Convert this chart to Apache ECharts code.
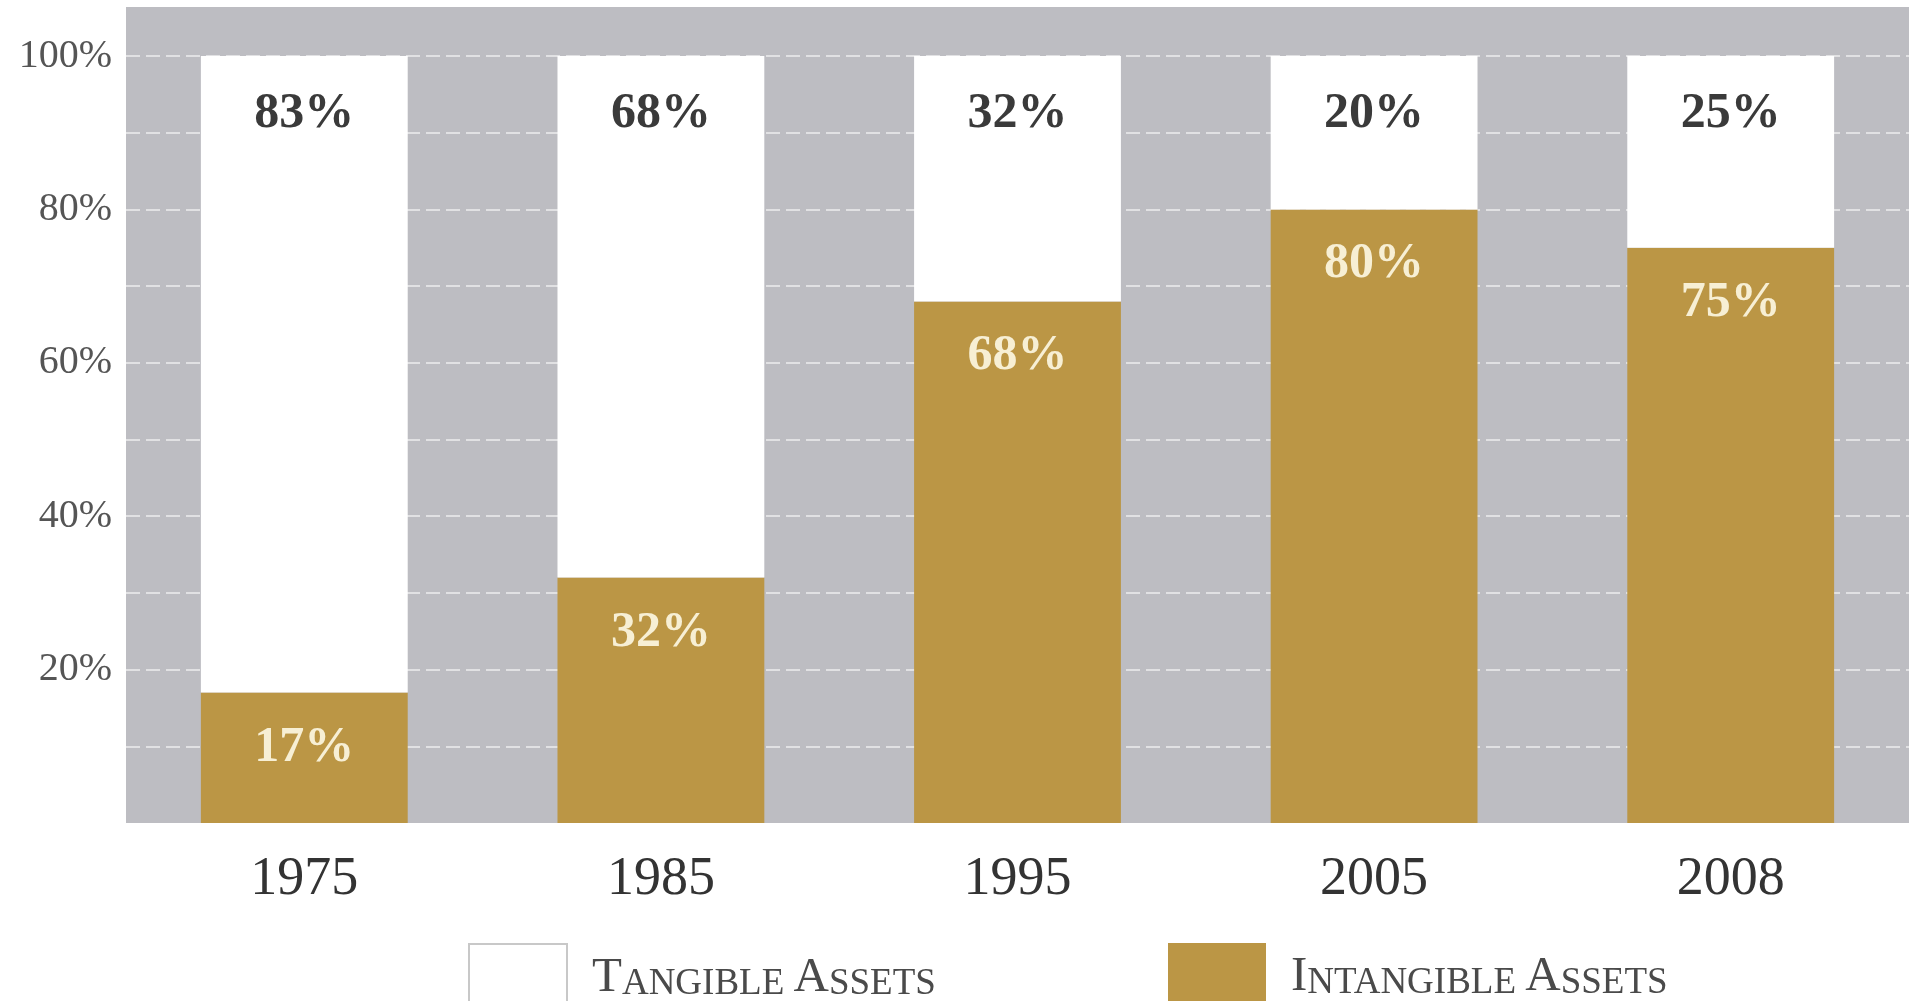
<!DOCTYPE html>
<html>
<head>
<meta charset="utf-8">
<title>Tangible vs Intangible Assets</title>
<script src="https://cdn.jsdelivr.net/npm/echarts@6/dist/echarts.min.js"></script>
<style>
    html, body { margin: 0; padding: 0; background: #fff; }
    #chart { width: 1909px; height: 1001px; }
</style>
</head>
<body>
<div id="chart"></div>
<script>
// 数据
var years = ['1975', '1985', '1995', '2005', '2008'];
var intangible = [17, 32, 68, 80, 75]; // 无形资产 %
var tangible = [83, 68, 32, 20, 25];   // 有形资产 %
var seriesNames = ['Tangible Assets', 'Intangible Assets'];

var gold = '#bb9645';
var serif = 'Liberation Serif';

// 小型大写字母图例
function smallCaps(name) {
    return name.split(' ').map(function (w) {
        return '{b|' + w.charAt(0) + '}{s|' + w.slice(1).toUpperCase() + '}';
    }).join('{s| }');
}

var legendText = {
    color: '#4a4a4a',
    padding: [0, 0, 0, 20],
    rich: {
        b: { fontFamily: serif, fontSize: 49, color: '#4a4a4a', lineHeight: 52, verticalAlign: 'bottom' },
        s: { fontFamily: serif, fontSize: 37, color: '#4a4a4a', lineHeight: 52, verticalAlign: 'bottom' }
    }
};

var myChart = echarts.init(document.getElementById('chart'));
var option = {
    backgroundColor: '#ffffff',
    animation: false,
    grid: {
        left: 126,
        right: 0,
        top: 7,
        bottom: 178,
        show: true,
        backgroundColor: '#bdbdc2',
        borderWidth: 0
    },
    legend: [{
        left: 463,
        top: 938,
        itemWidth: 98,
        itemHeight: 66,
        selectedMode: false,
        formatter: smallCaps,
        textStyle: legendText,
        data: [{
            name: seriesNames[0],
            icon: 'rect',
            itemStyle: { color: '#ffffff', borderColor: '#c8c8c8', borderWidth: 2 }
        }]
    }, {
        left: 1163,
        top: 938,
        itemWidth: 98,
        itemHeight: 66,
        selectedMode: false,
        formatter: smallCaps,
        textStyle: legendText,
        data: [{ name: seriesNames[1], icon: 'rect' }]
    }],
    xAxis: {
        type: 'category',
        data: years,
        axisLine: { show: false },
        axisTick: { show: false },
        axisLabel: {
            margin: 30,
            fontFamily: serif,
            fontSize: 54,
            color: '#333'
        }
    },
    yAxis: {
        type: 'value',
        min: 0,
        max: 106.4,
        interval: 10,
        axisLine: { show: false },
        axisTick: { show: false },
        axisLabel: {
            margin: 14,
            fontFamily: serif,
            fontSize: 40,
            color: '#555',
            showMaxLabel: false,
            formatter: function (v) {
                if (v === 0 || v > 100 || v % 20 !== 0) return '';
                return v + '%';
            }
        },
        splitLine: {
            showMinLine: false,
            showMaxLine: false,
            lineStyle: {
                type: [14, 6],
                color: 'rgba(255,255,255,0.55)',
                width: 2
            }
        }
    },
    series: [{
        name: seriesNames[1],
        type: 'bar',
        stack: 'total',
        barWidth: '58%',
        itemStyle: { color: gold },
        label: {
            show: true,
            position: 'insideTop',
            distance: 30,
            formatter: '{c}%',
            fontFamily: serif,
            fontSize: 50,
            fontWeight: 'bold',
            color: '#f7efd4'
        },
        data: intangible
    }, {
        name: seriesNames[0],
        type: 'bar',
        stack: 'total',
        barWidth: '58%',
        itemStyle: { color: '#ffffff' },
        label: {
            show: true,
            position: 'insideTop',
            distance: 33,
            formatter: '{c}%',
            fontFamily: serif,
            fontSize: 50,
            fontWeight: 'bold',
            color: '#3a3a3a'
        },
        data: tangible
    }]
};
myChart.setOption(option);
</script>
</body>
</html>
